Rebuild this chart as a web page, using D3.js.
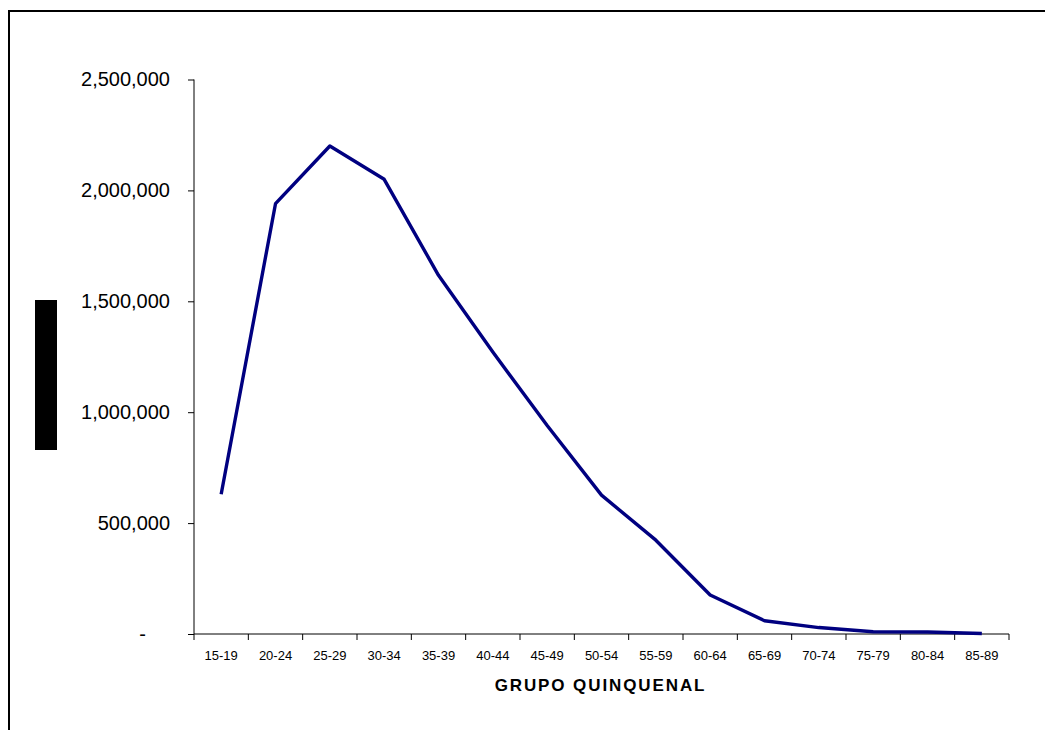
<!DOCTYPE html>
<html lang="es">
<head>
    <meta charset="UTF-8">
    <title>Grupo quinquenal</title>
    <style>
        html, body { margin: 0; padding: 0; background: #fff; }
        svg { display: block; font-family: "Liberation Sans", Arial, sans-serif; }
    </style>
</head>
<body>
<div id="chart"></div>
<script src="https://d3js.org/d3.v7.min.js"></script>
<script>

    // categories and values
    var grupos = ["15-19", "20-24", "25-29", "30-34", "35-39", "40-44", "45-49", "50-54",
                  "55-59", "60-64", "65-69", "70-74", "75-79", "80-84", "85-89"];
    var valores = [630000, 1940000, 2200000, 2050000, 1617000, 1271000, 940000, 626000,
                   423000, 176000, 60000, 29000, 10000, 9000, 2000];
    var yTicks = [0, 500000, 1000000, 1500000, 2000000, 2500000];
    var xTitle = "GRUPO QUINQUENAL";

    var width = 1045, height = 730;
    var margin = {top: 79.5, right: 36, bottom: 96, left: 194};

    var svg = d3.select("#chart").append("svg")
        .attr("width", width)
        .attr("height", height);

    /* outer frame, cut off by the window on the right and bottom */
    svg.append("rect")
        .attr("x", 9).attr("y", 11)
        .attr("width", 1200).attr("height", 900)
        .attr("fill", "none")
        .attr("stroke", "#000")
        .attr("stroke-width", 2);

    /* black block on the left */
    svg.append("rect")
        .attr("x", 35).attr("y", 300)
        .attr("width", 22).attr("height", 150)
        .attr("fill", "#000");

    var x = d3.scaleBand()
        .domain(grupos)
        .range([margin.left, width - margin.right]);

    var y = d3.scaleLinear()
        .domain([0, 2500000])
        .range([634, margin.top]);

    var fmt = d3.format(",");

    // y axis
    var yAxis = svg.append("g")
        .attr("transform", "translate(" + margin.left + ",0)")
        .call(d3.axisLeft(y)
            .tickValues(yTicks)
            .tickSize(6)
            .tickPadding(18)
            .tickFormat(function(d) { return d === 0 ? "-" : fmt(d); }));
    yAxis.select(".domain").attr("stroke", "#000").attr("d", "M0," + y(2500000) + "V" + y(0));
    yAxis.selectAll(".tick line").attr("stroke", "#000");
    yAxis.selectAll(".tick text")
        .attr("fill", "#000")
        .attr("font-size", "20px")
        .attr("font-family", "Liberation Sans, Arial, sans-serif");
    yAxis.selectAll(".tick text")
        .filter(function(d) { return d === 0; })
        .attr("dx", -24);

    // x axis, ticks sit between categories
    var xAxis = svg.append("g")
        .attr("transform", "translate(0,634)");
    xAxis.append("line")
        .attr("x1", x.range()[0]).attr("x2", x.range()[1])
        .attr("stroke", "#000");
    xAxis.selectAll("line.tk")
        .data(grupos.concat(["end"]))
        .enter().append("line")
        .attr("class", "tk")
        .attr("x1", function(d, i) { return x.range()[0] + i * x.step(); })
        .attr("x2", function(d, i) { return x.range()[0] + i * x.step(); })
        .attr("y1", 0).attr("y2", 6)
        .attr("stroke", "#000");
    xAxis.selectAll("text")
        .data(grupos)
        .enter().append("text")
        .attr("x", function(d) { return x(d) + x.bandwidth() / 2; })
        .attr("y", 26)
        .attr("text-anchor", "middle")
        .attr("font-size", "13px")
        .attr("fill", "#000")
        .text(function(d) { return d; });

    svg.append("text")
        .attr("x", (x.range()[0] + x.range()[1]) / 2 - 1)
        .attr("y", 691)
        .attr("text-anchor", "middle")
        .attr("font-size", "17px")
        .attr("font-weight", "bold")
        .attr("letter-spacing", "1.9px")
        .attr("fill", "#000")
        .text(xTitle);

    // the line
    var line = d3.line()
        .x(function(d, i) { return x(grupos[i]) + x.bandwidth() / 2; })
        .y(function(d) { return y(d); });

    svg.append("path")
        .datum(valores)
        .attr("fill", "none")
        .attr("stroke", "#000080")
        .attr("stroke-width", 3.4)
        .attr("stroke-linejoin", "round")
        .attr("d", line);

</script>
</body>
</html>
